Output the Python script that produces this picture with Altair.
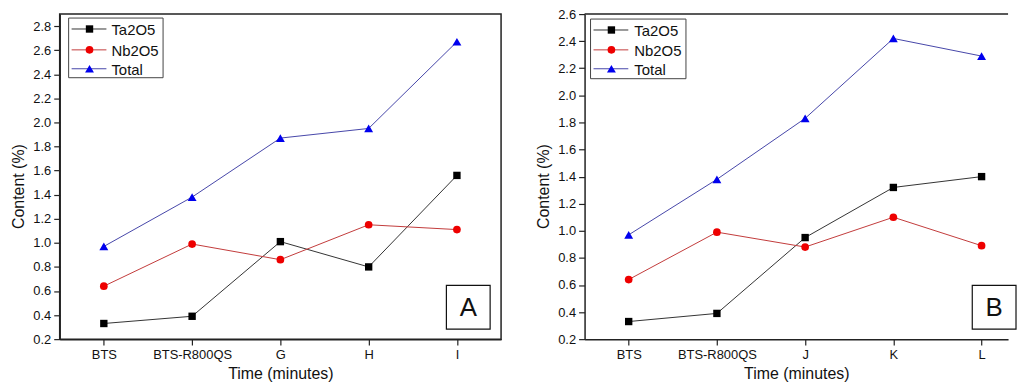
import json
import altair as alt
import pandas as pd

series = ["Ta2O5", "Nb2O5", "Total"]
cats_a = ["BTS", "BTS-R800QS", "G", "H", "I"]
cats_b = ["BTS", "BTS-R800QS", "J", "K", "L"]
ta_a = [0.33, 0.39, 1.01, 0.80, 1.56]
nb_a = [0.64, 0.99, 0.86, 1.15, 1.11]
tot_a = [0.97, 1.38, 1.87, 1.95, 2.67]
ta_b = [0.33, 0.39, 0.95, 1.32, 1.40]
nb_b = [0.64, 0.99, 0.88, 1.10, 0.89]
tot_b = [0.97, 1.38, 1.83, 2.42, 2.29]
yticks_a = [0.2, 0.4, 0.6, 0.8, 1.0, 1.2, 1.4, 1.6, 1.8, 2.0, 2.2, 2.4, 2.6, 2.8]
yticks_b = [0.2, 0.4, 0.6, 0.8, 1.0, 1.2, 1.4, 1.6, 1.8, 2.0, 2.2, 2.4, 2.6]

marker_colors = ["#000000", "#ee0000", "#0000ee"]
line_colors = ["#333333", "#c23a3a", "#4646a8"]
shapes = ["square", "circle", "triangle-up"]
sizes = [55, 60, 80]
FONT = "Liberation Sans"
H = 327


def panel(cats, vals, yticks, ydom, xdom, width, letter, frame_right, leg):
    idx = list(range(len(cats)))
    label_expr = json.dumps(cats) + "[datum.value]"
    x = alt.X("i:Q", scale=alt.Scale(domain=xdom, nice=False, zero=False),
              axis=alt.Axis(values=idx, labelExpr=label_expr, title="Time (minutes)",
                            grid=False, tickSize=6, labelPadding=3, titlePadding=5,
                            labelFlush=False))
    y = alt.Y("v:Q", scale=alt.Scale(domain=ydom, nice=False, zero=False),
              axis=alt.Axis(values=yticks, format=".1f", title="Content (%)", grid=False,
                            tickSize=6, labelPadding=3, titlePadding=6, titleY=173))
    layers = []
    for k, name in enumerate(series):
        df = pd.DataFrame({"i": idx, "v": vals[k]})
        layers.append(alt.Chart(df).mark_line(color=line_colors[k], strokeWidth=1).encode(x=x, y=y))
    for k, name in enumerate(series):
        df = pd.DataFrame({"i": idx, "v": vals[k]})
        layers.append(alt.Chart(df).mark_point(shape=shapes[k], filled=True, opacity=1,
                                               color=marker_colors[k], size=sizes[k]).encode(x=x, y=y))
    one = pd.DataFrame({"t": [letter]})
    if not frame_right:
        layers.append(alt.Chart(one).mark_rule(color="#222222", strokeWidth=1.5).encode(
            x=alt.value(0), x2=alt.value(width), y=alt.value(0)))
    # legend box
    lx0, lx1, ly0, ly1, rows, l0, l1, mx, tx = leg
    layers.append(alt.Chart(one).mark_rect(fill="white", stroke="#444444", strokeWidth=1).encode(
        x=alt.value(lx0), x2=alt.value(lx1), y=alt.value(ly0), y2=alt.value(ly1)))
    for k, name in enumerate(series):
        d = pd.DataFrame({"name": [name]})
        layers.append(alt.Chart(d).mark_rule(color=line_colors[k], strokeWidth=1).encode(
            x=alt.value(l0), x2=alt.value(l1), y=alt.value(rows[k])))
        layers.append(alt.Chart(d).mark_point(shape=shapes[k], filled=True, opacity=1,
                                              color=marker_colors[k], size=sizes[k]).encode(
            x=alt.value(mx), y=alt.value(rows[k])))
        layers.append(alt.Chart(d).mark_text(align="left", baseline="middle", font=FONT,
                                             fontSize=15, color="#111111").encode(
            x=alt.value(tx), y=alt.value(rows[k] + 1), text="name:N"))
    # letter box
    bx0, bx1 = width - 55, width - 11
    if not frame_right:
        bx0, bx1 = 390, 434
    layers.append(alt.Chart(one).mark_rect(fill="white", stroke="#111111", strokeWidth=1.2).encode(
        x=alt.value(bx0), x2=alt.value(bx1), y=alt.value(273), y2=alt.value(317)))
    layers.append(alt.Chart(one).mark_text(align="center", baseline="middle", font=FONT,
                                           fontSize=26, color="#111111").encode(
        x=alt.value((bx0 + bx1) / 2), y=alt.value(296), text="t:N"))
    view = alt.ViewBackground(stroke="#222222", strokeWidth=1.5) if frame_right else \
        alt.ViewBackground(stroke=None)
    return alt.layer(*layers).properties(width=width, height=H, view=view)


left = panel(cats_a, [ta_a, nb_a, tot_a], yticks_a, [0.2, 2.9], [-0.5, 4.5], 444, "A", True,
             (9, 104, 4, 64, [15, 36, 55], 12, 47, 30, 52))
right = panel(cats_b, [ta_b, nb_b, tot_b], yticks_b, [0.2, 2.6], [-0.5, 4.3], 426, "B", False,
              (6, 102, 5, 65, [16, 36, 55], 9, 44, 27, 50))

chart = alt.hconcat(left, right, spacing=33).properties(
    padding={"left": 2, "top": -1, "right": 0, "bottom": 0}
).configure_axis(
    labelFont=FONT, titleFont=FONT, labelFontSize=13, titleFontSize=16,
    titleFontWeight="normal", labelColor="#111111", titleColor="#111111",
    domainColor="#222222", domainWidth=1.5, tickColor="#222222", tickWidth=1.2
)

chart.save("out.html", embed_options={"renderer": "svg", "actions": False})
